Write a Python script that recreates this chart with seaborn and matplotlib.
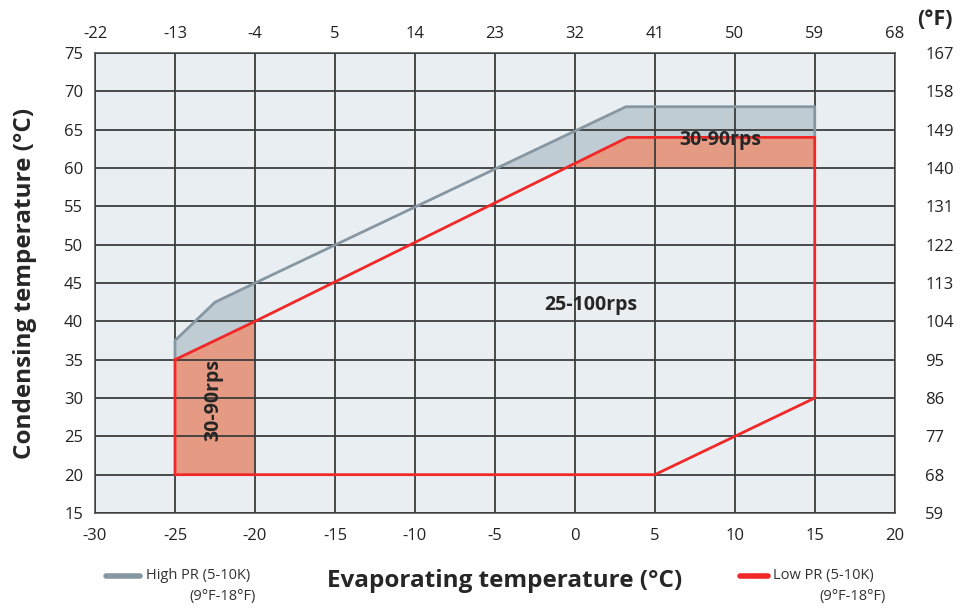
import numpy as np
import seaborn as sns
import matplotlib.pyplot as plt
from matplotlib.lines import Line2D

# envelope outlines (evaporating °C, condensing °C)
high_x = [-25, -25, -22.5, -20, 3.2, 15, 15]
high_y = [35, 37.5, 42.5, 45, 68, 68, 64]
low_x = [-25, -20, 3.3, 15, 15, 5, -25, -25]
low_y = [35, 40, 64, 64, 30, 20, 20, 35]

x_ticks = list(range(-30, 21, 5))
y_ticks = list(range(15, 76, 5))
f_top = [-22, -13, -4, 5, 14, 23, 32, 41, 50, 59, 68]
f_right = [59, 68, 77, 86, 95, 104, 113, 122, 131, 140, 149, 158, 167]

sns.set_style('white')
plt.rcParams['font.family'] = ['Open Sans', 'DejaVu Sans']
plt.rcParams['axes.unicode_minus'] = False

fig = plt.figure(figsize=(9.6, 6.1), dpi=100)
ax = fig.add_axes([0.099, 0.159, 0.833, 0.754])
ax.set_facecolor('#e9eef2')

# fills
grey_fill = '#c0ccd4'
salmon = '#e59a83'
red = '#f02828'
grey_line = '#8797a2'

xl = np.linspace(-25, -20, 50)
up_l = np.interp(xl, high_x[1:5], high_y[1:5])
red_l = np.interp(xl, low_x[:3], low_y[:3])
ax.fill_between(xl, red_l, up_l, color=grey_fill, lw=0, zorder=1)
ax.fill_between(xl, 20, red_l, color=salmon, lw=0, zorder=1)

xr = np.linspace(-5, 15, 400)
up_r = np.interp(xr, high_x[3:6], high_y[3:6])
red_r = np.interp(xr, low_x[1:4], low_y[1:4])
ax.fill_between(xr, np.maximum(red_r, 60), up_r, color=grey_fill, lw=0, zorder=1)
xs = xr[xr >= 0]
ax.fill_between(xs, 60, np.interp(xs, low_x[1:4], low_y[1:4]), color=salmon, lw=0, zorder=1)

ax.set_xlim(-30, 20)
ax.set_ylim(15, 75)
ax.set_xticks(x_ticks)
ax.set_yticks(y_ticks)
ax.grid(True, color='#3c3c3c', lw=1.3, zorder=2)
ax.set_axisbelow(False)

sns.lineplot(x=high_x, y=high_y, sort=False, estimator=None, color=grey_line, lw=2, ax=ax, zorder=3)
sns.lineplot(x=low_x, y=low_y, sort=False, estimator=None, color=red, lw=2, ax=ax, zorder=4)

for s in ax.spines.values():
    s.set_color('#555555')
    s.set_linewidth(1.2)
ax.tick_params(axis='both', direction='inout', length=9, width=1.2, color='#333333',
               labelsize=12, colors='#222222')
ax.tick_params(axis='x', pad=6)
ax.tick_params(axis='y', pad=4)

top = ax.secondary_xaxis('top', functions=(lambda c: c * 9 / 5 + 32, lambda f: (f - 32) * 5 / 9))
top.set_xticks(f_top)
top.tick_params(length=0, labelsize=12, pad=8, colors='#222222')
top.spines['top'].set_visible(False)
right = ax.secondary_yaxis('right', functions=(lambda c: c * 9 / 5 + 32, lambda f: (f - 32) * 5 / 9))
right.set_yticks(f_right)
right.tick_params(length=0, labelsize=12, pad=22, colors='#222222')
right.spines['right'].set_visible(False)

ax.text(9.1, 63.7, '30-90rps', fontsize=14, fontweight='bold', ha='center', va='center', zorder=5)
ax.text(1.0, 42.2, '25-100rps', fontsize=14, fontweight='bold', ha='center', va='center', zorder=5)
ax.text(-22.6, 29.8, '30-90rps', fontsize=14, fontweight='bold', ha='center', va='center',
        rotation=90, zorder=5)

fig.text(0.974, 0.968, '(°F)', fontsize=15.5, fontweight='bold', ha='center', va='center')
fig.text(0.026, 0.536, 'Condensing temperature (°C)', fontsize=17.5, fontweight='bold',
         rotation=90, ha='center', va='center')
fig.text(0.526, 0.047, 'Evaporating temperature (°C)', fontsize=17.5, fontweight='bold',
         ha='center', va='center')

# legend entries
fig.add_artist(Line2D([106 / 960, 140 / 960], [0.056, 0.056], color=grey_line, lw=4))
fig.text(146 / 960, 0.056, 'High PR (5-10K)', fontsize=10.5, va='center', color='#333333')
fig.text(256 / 960, 0.022, '(9°F-18°F)', fontsize=10.5, va='center', ha='right', color='#333333')
fig.add_artist(Line2D([740 / 960, 768 / 960], [0.056, 0.056], color=red, lw=4))
fig.text(773 / 960, 0.056, 'Low PR (5-10K)', fontsize=10.5, va='center', color='#333333')
fig.text(886 / 960, 0.022, '(9°F-18°F)', fontsize=10.5, va='center', ha='right', color='#333333')

fig.savefig('out.png', dpi=100)
